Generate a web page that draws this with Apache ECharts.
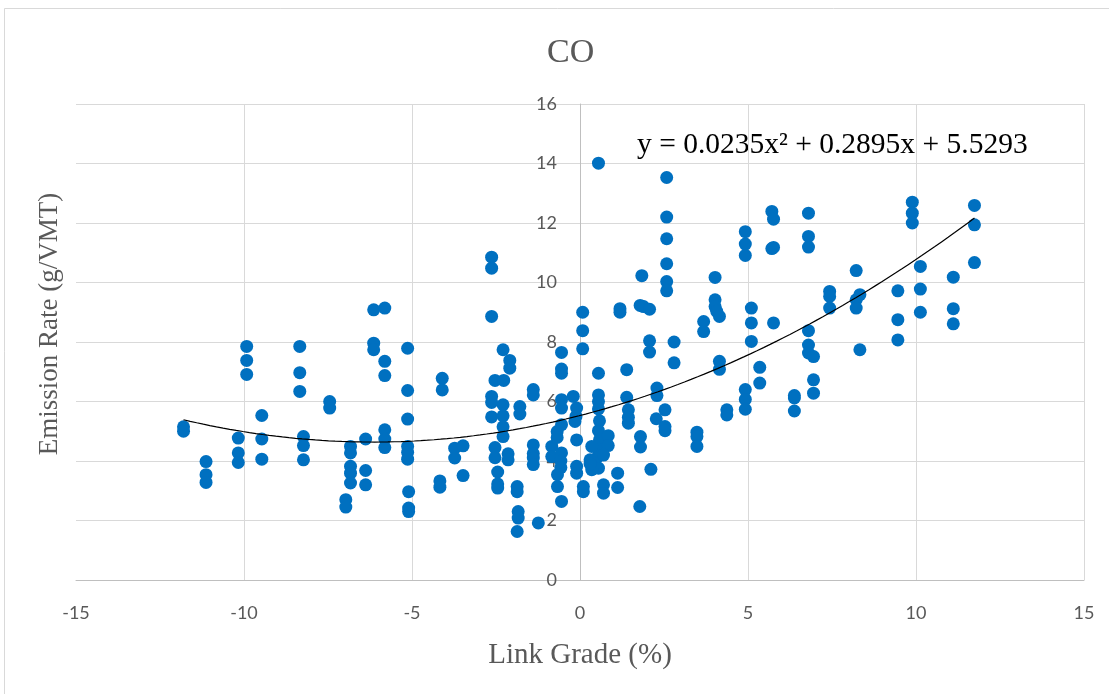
<!DOCTYPE html>
<html>
<head>
<meta charset="utf-8">
<script src="https://cdn.jsdelivr.net/npm/echarts@6/dist/echarts.min.js"></script>
<style>
html,body{margin:0;padding:0;background:#fff;}
#chart{width:1109px;height:694px;}
</style>
</head>
<body>
<div id="chart"></div>
<script>
// Link grade (%) of each observation
const linkGrade = [
-11.8,-11.8,
-11.13,-11.13,-11.13,
-10.17,-10.17,-10.17,
-9.92,-9.92,-9.92,
-9.47,-9.47,-9.47,
-8.34,-8.34,-8.34,
-8.23,-8.23,-8.23,
-7.45,-7.45,
-6.97,-6.97,
-6.83,-6.83,-6.83,-6.83,-6.83,
-6.38,-6.38,-6.38,
-6.14,-6.14,-6.14,
-5.81,-5.81,-5.81,-5.81,-5.81,-5.81,
-5.13,-5.13,-5.13,-5.13,-5.13,-5.13,-5.1,-5.1,-5.1,
-4.1,-4.1,-4.17,-4.17,
-3.73,-3.73,-3.48,-3.48,
-2.63,-2.63,-2.63,-2.63,-2.63,-2.63,
-2.53,-2.27,
-2.53,-2.53,-2.45,-2.45,-2.45,
-2.29,-2.29,-2.29,-2.29,-2.29,
-2.14,-2.14,
-2.09,-2.09,
-1.79,-1.79,
-1.87,-1.87,
-1.84,-1.84,-1.87,
-1.39,-1.39,-1.39,-1.39,-1.39,-1.39,
-1.24,
-0.84,-0.84,
-0.55,-0.55,-0.55,-0.55,-0.55,-0.55,-0.68,-0.68,-0.55,-0.57,-0.57,-0.67,-0.67,-0.55,
-0.2,-0.1,-0.12,-0.15,
-0.1,-0.1,-0.1,
0.08,0.08,0.08,
0.1,0.1,
0.55,
0.55,0.55,0.55,0.55,0.58,0.55,0.58,0.55,0.5,0.55,
0.35,0.3,0.35,0.3,
0.84,0.84,0.7,0.7,0.7,
1.12,1.12,
1.19,1.19,
1.39,1.39,1.44,1.44,1.44,
1.8,1.8,1.78,
1.84,1.79,1.89,2.07,
2.07,2.07,
2.11,
2.29,2.29,2.27,
2.53,2.53,2.53,
2.58,2.58,2.58,2.58,2.58,2.58,
2.8,2.8,
3.48,3.48,3.48,
3.68,3.68,
4.02,4.02,4.02,4.07,4.15,
4.15,4.15,
4.37,4.37,
4.92,4.92,4.92,
4.92,4.92,4.92,
5.1,5.1,5.1,
5.35,5.35,
5.71,5.76,5.71,5.76,5.76,
6.38,6.38,6.38,
6.8,6.8,6.8,6.8,6.8,6.8,6.95,6.95,6.95,
7.43,7.43,7.43,
8.22,8.33,8.22,8.22,8.33,
9.46,9.46,9.46,
9.89,9.89,9.89,
10.13,10.13,10.13,
11.11,11.11,11.11,
11.74,11.74,11.74
];
// CO emission rate (g/VMT) of each observation
const emissionRate = [
5.15,5.0,
3.98,3.54,3.28,
4.77,4.27,3.95,
7.85,7.38,6.91,
5.53,4.74,4.06,
7.85,6.97,6.34,
4.82,4.52,4.04,
6.0,5.78,
2.7,2.45,
4.49,4.27,3.82,3.59,3.26,
4.74,3.68,3.2,
9.08,7.96,7.74,
9.14,7.35,6.87,5.05,4.74,4.45,
7.79,6.37,5.41,4.49,4.29,4.06,2.97,2.42,2.3,
6.78,6.39,3.33,3.12,
4.43,4.1,4.51,3.51,
10.85,10.48,8.86,6.17,5.97,5.48,
6.71,6.71,
4.45,4.11,3.63,3.23,3.09,
7.74,5.89,5.52,5.15,4.82,
4.24,4.04,
7.38,7.12,
5.83,5.58,
3.14,2.97,
2.3,2.08,1.63,
6.4,6.22,4.54,4.25,4.1,3.88,
1.92,
4.49,4.15,
7.65,7.09,6.95,6.06,5.78,5.22,4.99,4.79,4.27,4.0,3.78,3.54,3.14,2.64,
6.17,5.78,5.5,5.33,
4.71,3.82,3.59,
9.0,8.38,7.77,
3.14,2.97,
14.01,
6.95,6.22,6.0,5.75,5.35,5.02,4.71,4.38,4.1,3.76,
4.49,4.04,3.71,3.9,
4.85,4.52,4.2,3.2,2.92,
3.59,3.11,
9.12,9.0,
7.07,6.14,5.72,5.47,5.27,
4.82,4.47,2.47,
10.23,9.23,9.19,9.1,
8.04,7.66,
3.72,
6.45,6.2,5.42,
5.72,5.16,5.02,
13.53,12.2,11.47,10.63,10.03,9.72,
8.0,7.3,
4.97,4.82,4.49,
8.69,8.35,
10.17,9.42,9.19,9.03,8.86,
7.35,7.08,
5.72,5.55,
11.71,11.29,10.91,
6.4,6.07,5.74,
9.14,8.64,8.02,
7.15,6.62,
12.39,12.13,11.14,11.18,8.64,
6.2,6.12,5.68,
12.33,11.55,11.19,8.38,7.9,7.63,7.51,6.73,6.28,
9.7,9.53,9.14,
10.4,9.59,9.42,9.14,7.74,
9.72,8.75,8.07,
12.7,12.33,12.0,
10.54,9.78,9.0,
10.18,9.12,8.61,
12.59,11.94,10.67
];
// Polynomial trend line coefficients shown on the chart: a x^2 + b x + c
const trendCoef = [0.0235, 0.2895, 5.5293];
const trendLabel = 'y = 0.0235x\u00B2 + 0.2895x + 5.5293';
const xTicks = {min: -15, max: 15, interval: 5};
const yTicks = {min: 0, max: 16, interval: 2};

const points = linkGrade.map((x, i) => [x, emissionRate[i]]);
const xMin = Math.min(...linkGrade), xMax = Math.max(...linkGrade);
const trend = [];
const steps = 120;
for (let i = 0; i <= steps; i++) {
  const x = xMin + (xMax - xMin) * i / steps;
  trend.push([x, trendCoef[0]*x*x + trendCoef[1]*x + trendCoef[2]]);
}

const gridLeft = 76, gridRight = 25;
const plotW = 1109 - gridLeft - gridRight;
// shift the y axis from the plot's left edge to where x = 0 lies
const yAxisShift = plotW * (0 - xTicks.min) / (xTicks.max - xTicks.min);

const chart = echarts.init(document.getElementById('chart'), null, {renderer: 'canvas'});
const serif = 'Liberation Serif, Times New Roman, serif';
const sans = 'Lato, Carlito, Calibri, sans-serif';
chart.setOption({
  backgroundColor: '#ffffff',
  animation: false,
  title: {
    text: 'CO', left: 542, top: 31,
    textStyle: {fontFamily: serif, fontSize: 34, fontWeight: 'normal', color: '#595959'}
  },
  grid: {left: gridLeft, right: gridRight, top: 104, bottom: 114, containLabel: false},
  xAxis: {
    type: 'value', min: xTicks.min, max: xTicks.max, interval: xTicks.interval,
    name: 'Link Grade (%)', nameLocation: 'middle', nameGap: 61,
    nameTextStyle: {fontFamily: serif, fontSize: 29, color: '#595959'},
    axisLine: {show: true, onZero: false, lineStyle: {color: '#bfbfbf', width: 1}},
    axisTick: {show: false},
    axisLabel: {fontFamily: sans, fontSize: 18, color: '#595959', margin: 24},
    splitLine: {show: true, showMinLine: false, lineStyle: {color: '#d9d9d9', width: 1}}
  },
  yAxis: {
    type: 'value', min: yTicks.min, max: yTicks.max, interval: yTicks.interval,
    position: 'left', offset: -yAxisShift,
    axisLine: {show: true, onZero: false, lineStyle: {color: '#bfbfbf', width: 1}},
    axisTick: {show: false},
    axisLabel: {fontFamily: sans, fontSize: 18, color: '#595959', margin: 23},
    splitLine: {show: true, lineStyle: {color: '#d9d9d9', width: 1}}
  },
  graphic: [
    {type: 'rect', shape: {x: 4.5, y: 8.5, width: 1120, height: 720}, style: {fill: 'none', stroke: '#d9d9d9', lineWidth: 1}, silent: true, z: -10},
    {type: 'text', left: 637, top: 130, style: {text: trendLabel, font: '29.5px ' + serif, fill: '#000000'}},
    {type: 'text', x: 50, y: 324, rotation: Math.PI/2,
     style: {text: 'Emission Rate (g/VMT)', font: '27px ' + serif, fill: '#595959', align: 'center', verticalAlign: 'middle'}}
  ],
  series: [
    {type: 'scatter', data: points, symbol: 'circle', symbolSize: 13,
     itemStyle: {color: '#0070C0', opacity: 1}, z: 3},
    {type: 'line', data: trend, showSymbol: false, symbol: 'none', smooth: false,
     lineStyle: {color: '#000000', width: 1.2}, z: 4, silent: true}
  ]
});
</script>
</body>
</html>
